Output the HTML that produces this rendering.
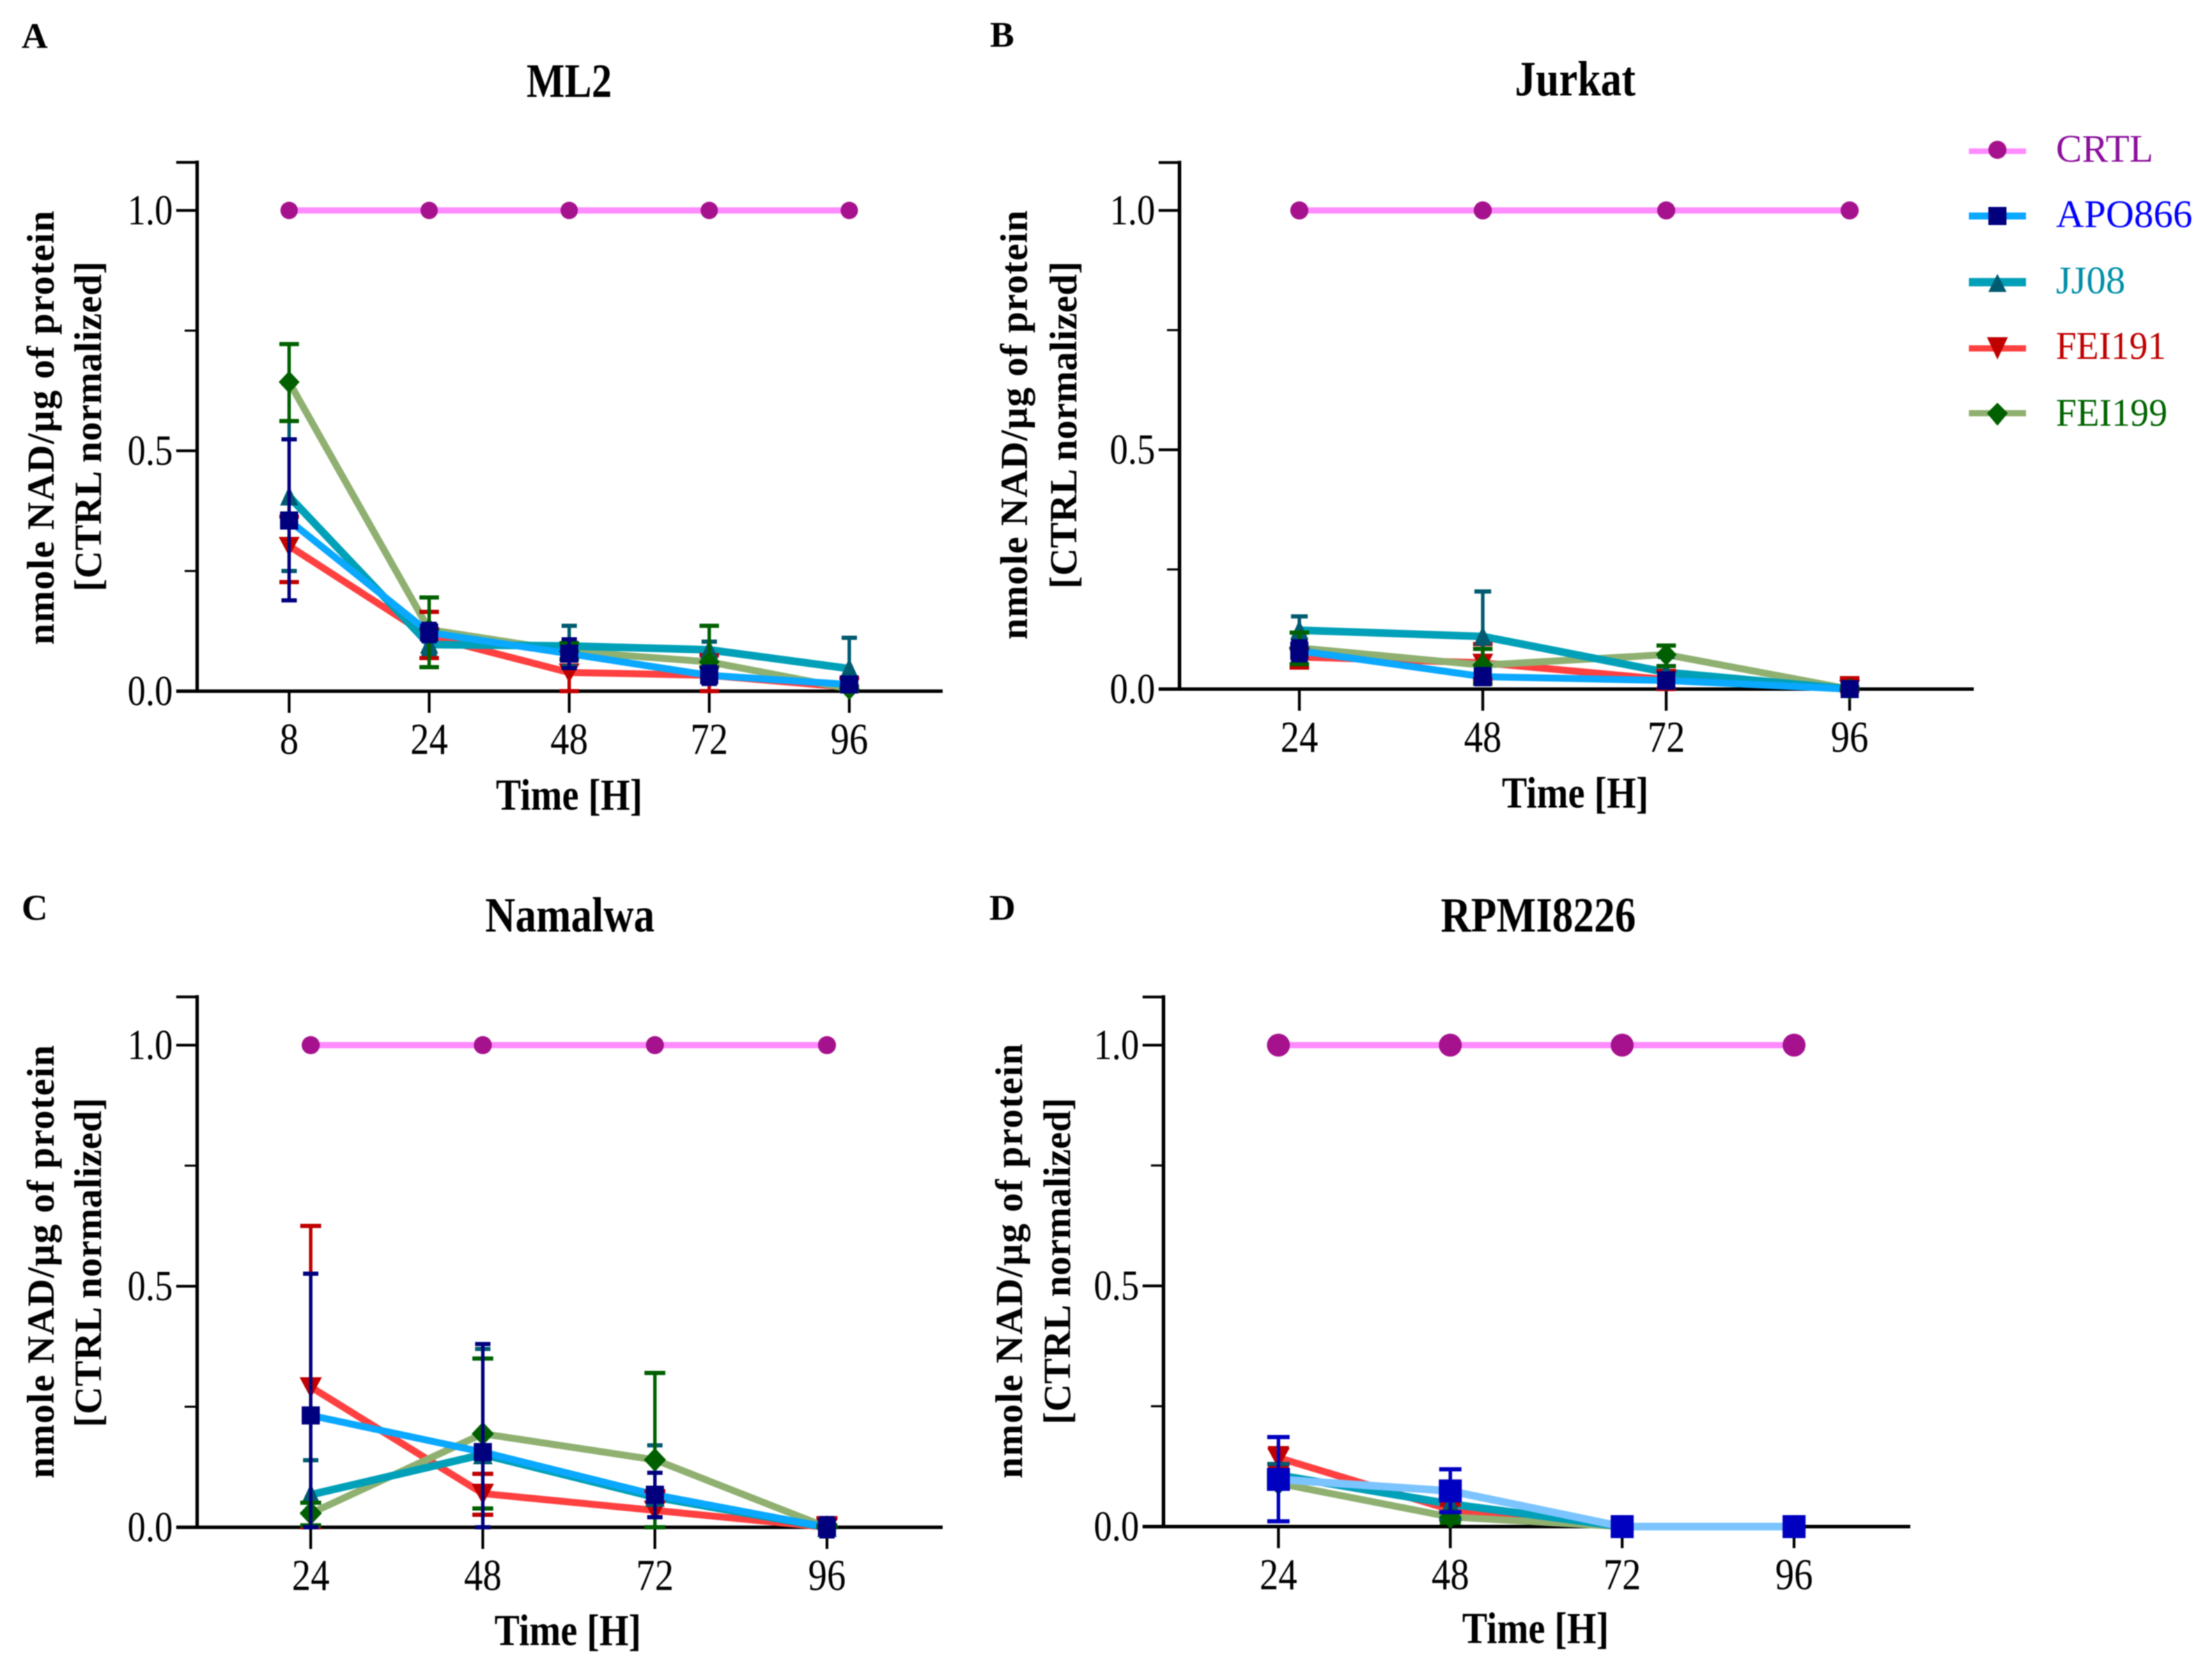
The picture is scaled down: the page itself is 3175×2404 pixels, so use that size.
<!DOCTYPE html>
<html lang="en">
<head>
<meta charset="utf-8">
<title>NAD levels over time in four cell lines</title>
<style>
html,body{margin:0;padding:0;background:#fff;}
svg{display:block;font-family:"Liberation Serif",serif;filter:blur(0.8px);}
.lbl{font-weight:bold;fill:#000;}
.leg{font-size:56px;}
</style>
</head>
<body>
<svg id="figure" xmlns="http://www.w3.org/2000/svg" width="3175" height="2404" viewBox="0 0 3175 2404">
<rect width="3175" height="2404" fill="#fff"/>

<text class="lbl" font-size="52" x="31" y="69">A</text>
<text class="lbl" font-size="52" x="1421" y="67">B</text>
<text class="lbl" font-size="52" x="31" y="1320">C</text>
<text class="lbl" font-size="52" x="1420" y="1320">D</text>

<text class="lbl" font-size="58" text-anchor="middle" transform="translate(817,139) scale(1,1.18)">ML2</text>
<text class="lbl" font-size="60" text-anchor="middle" transform="translate(2261,137) scale(1,1.18)">Jurkat</text>
<text class="lbl" font-size="60" text-anchor="middle" transform="translate(818,1337) scale(1,1.18)">Namalwa</text>
<text class="lbl" font-size="60" text-anchor="middle" transform="translate(2208,1337) scale(1,1.18)">RPMI8226</text>

<text class="lbl" font-size="54" text-anchor="middle" transform="translate(817,1162) scale(1,1.18)">Time [H]</text>
<text class="lbl" font-size="54" text-anchor="middle" transform="translate(2261,1159) scale(1,1.18)">Time [H]</text>
<text class="lbl" font-size="54" text-anchor="middle" transform="translate(815,2361) scale(1,1.18)">Time [H]</text>
<text class="lbl" font-size="54" text-anchor="middle" transform="translate(2204,2358) scale(1,1.18)">Time [H]</text>

<text class="lbl" font-size="55" text-anchor="middle" textLength="623" lengthAdjust="spacing" transform="translate(77,614) rotate(-90)">nmole NAD/µg of protein</text>
<text class="lbl" font-size="55" text-anchor="middle" textLength="474" lengthAdjust="spacing" transform="translate(145,612) rotate(-90)">[CTRL normalized]</text>
<text class="lbl" font-size="55" text-anchor="middle" textLength="616" lengthAdjust="spacing" transform="translate(1474,610) rotate(-90)">nmole NAD/µg of protein</text>
<text class="lbl" font-size="55" text-anchor="middle" textLength="470" lengthAdjust="spacing" transform="translate(1545,610) rotate(-90)">[CTRL normalized]</text>
<text class="lbl" font-size="55" text-anchor="middle" textLength="622" lengthAdjust="spacing" transform="translate(77,1811) rotate(-90)">nmole NAD/µg of protein</text>
<text class="lbl" font-size="55" text-anchor="middle" textLength="473" lengthAdjust="spacing" transform="translate(145,1812) rotate(-90)">[CTRL normalized]</text>
<text class="lbl" font-size="55" text-anchor="middle" textLength="624" lengthAdjust="spacing" transform="translate(1467,1810) rotate(-90)">nmole NAD/µg of protein</text>
<text class="lbl" font-size="55" text-anchor="middle" textLength="469" lengthAdjust="spacing" transform="translate(1536,1810) rotate(-90)">[CTRL normalized]</text>

<g id="panels"></g>

<g id="legend">
  <g>
    <line x1="2826" x2="2908" y1="217" y2="217" stroke="#ff8cff" stroke-width="8"/>
    <circle cx="2867" cy="215" r="13" fill="#a6128e"/>
    <text class="leg" x="2951" y="232" fill="#8b0f9b">CRTL</text>
  </g>
  <g>
    <line x1="2826" x2="2908" y1="310" y2="310" stroke="#0aa8ff" stroke-width="10"/>
    <rect x="2854" y="297" width="26" height="26" fill="#00007f"/>
    <text class="leg" x="2951" y="326" fill="#0000ff">APO866</text>
  </g>
  <g>
    <line x1="2826" x2="2908" y1="405" y2="405" stroke="#00a0b8" stroke-width="12"/>
    <polygon points="2867,393 2880,419 2854,419" fill="#005a70"/>
    <text class="leg" x="2951" y="421" fill="#008fa8">JJ08</text>
  </g>
  <g>
    <line x1="2826" x2="2908" y1="500" y2="500" stroke="#ff4040" stroke-width="9"/>
    <polygon points="2852,484 2882,484 2867,516" fill="#c00000"/>
    <text class="leg" x="2951" y="515" fill="#c00000" textLength="158" lengthAdjust="spacingAndGlyphs">FEI191</text>
  </g>
  <g>
    <line x1="2826" x2="2908" y1="593" y2="593" stroke="#8fb070" stroke-width="9"/>
    <polygon points="2867,578 2882,593 2867,611 2852,593" fill="#006000"/>
    <text class="leg" x="2951" y="611" fill="#006400" textLength="160" lengthAdjust="spacingAndGlyphs">FEI199</text>
  </g>
</g>
</svg>

<script>
/* ---------- axis tick data ---------- */
const yMajorTicks = [0, 0.5, 1];
const yMajorLabels = ['0.0', '0.5', '1.0'];
const yMinorTicks = [0.25, 0.75];
const yAxisMax = 1.1;

/* ---------- Panel A: ML2 ---------- */
const mlHours = ['8', '24', '48', '72', '96'];
const mlCtrl = [1, 1, 1, 1, 1];
const mlApo = [0.355, 0.122, 0.078, 0.033, 0.014];
const mlApoHi = [0.524, 0.14, 0.108, 0.051, 0.024];
const mlApoLo = [0.189, 0.104, 0.048, 0.015, 0.004];
const mlJj = [0.405, 0.097, 0.094, 0.086, 0.047];
const mlJjHi = [0.64, 0.117, 0.136, 0.103, 0.111];
const mlJjLo = [0.25, 0.077, 0.052, 0.069, 0];
const mlFei191 = [0.302, 0.114, 0.039, 0.033, 0.008];
const mlFei191Hi = [0.363, 0.165, 0.066, 0.075, 0.028];
const mlFei191Lo = [0.227, 0.069, 0, 0, 0];
const mlFei199 = [0.643, 0.128, 0.083, 0.061, 0.005];
const mlFei199Hi = [0.722, 0.195, 0.1, 0.136, 0.01];
const mlFei199Lo = [0.562, 0.05, 0.066, 0.05, 0];

/* ---------- Panel B: Jurkat ---------- */
const juHours = ['24', '48', '72', '96'];
const juCtrl = [1, 1, 1, 1];
const juApo = [0.08, 0.026, 0.018, 0];
const juApoHi = [0.1, 0.042, 0.033, 0.01];
const juApoLo = [0.06, 0.01, 0.003, -0.01];
const juJj = [0.123, 0.11, 0.035, 0];
const juJjHi = [0.152, 0.204, 0.067, 0.005];
const juJjLo = [0.094, 0.03, 0.009, 0];
const juFei191 = [0.067, 0.055, 0.02, 0];
const juFei191Hi = [0.085, 0.094, 0.038, 0.023];
const juFei191Lo = [0.045, 0.02, 0, -0.004];
const juFei199 = [0.086, 0.05, 0.072, 0];
const juFei199Hi = [0.118, 0.084, 0.091, 0.004];
const juFei199Lo = [0.052, 0.011, 0.048, 0];

/* ---------- Panel C: Namalwa ---------- */
const naHours = ['24', '48', '72', '96'];
const naCtrl = [1, 1, 1, 1];
const naApo = [0.232, 0.156, 0.0675, 0];
const naApoHi = [0.526, 0.38, 0.113, 0.019];
const naApoLo = [0, 0, 0.021, -0.019];
const naJj = [0.0675, 0.151, 0.0625, 0];
const naJjHi = [0.139, 0.37, 0.17, 0.004];
const naJjLo = [0, 0, 0, 0];
const naFei191 = [0.291, 0.07, 0.035, 0];
const naFei191Hi = [0.625, 0.111, 0.075, 0.019];
const naFei191Lo = [0, 0.026, 0, 0];
const naFei199 = [0.029, 0.194, 0.14, 0];
const naFei199Hi = [0.051, 0.35, 0.32, 0.004];
const naFei199Lo = [0.004, 0.039, 0, 0];

/* ---------- Panel D: RPMI8226 ---------- */
const rpHours = ['24', '48', '72', '96'];
const rpCtrl = [1, 1, 1, 1];
const rpApo = [0.098, 0.074, 0, 0];
const rpApoHi = [0.186, 0.119, 0.01, 0.01];
const rpApoLo = [0.011, 0.03, -0.01, -0.01];
const rpJj = [0.107, 0.047, 0, 0];
const rpJjHi = [0.13, 0.065, 0, 0];
const rpJjLo = [0.085, 0.015, 0, 0];
const rpFei191 = [0.143, 0.035, 0, 0];
const rpFei191Hi = [0.163, 0.045, 0, 0];
const rpFei191Lo = [0.123, 0.012, 0, 0];
const rpFei199 = [0.09, 0.02, 0, 0];
const rpFei199Hi = [0.1, 0.03, 0, 0];
const rpFei199Lo = [0.08, 0.008, 0, 0];

/* ---------- series appearance ---------- */
const STYLE = {
  ctrl:   {line:'#ff8cff', mark:'#a6128e', w:9,  shape:'circle'},
  apo:    {line:'#0aa8ff', mark:'#00007f', w:10, shape:'square'},
  jj:     {line:'#00a0b8', mark:'#005a70', w:11, shape:'up'},
  fei191: {line:'#ff4040', mark:'#c00000', w:10, shape:'down'},
  fei199: {line:'#8fb070', mark:'#006000', w:10, shape:'diamond'}
};
const STYLE_D_APO = {line:'#7cc4ff', mark:'#0000c0', w:11, shape:'square'};

const NS = 'http://www.w3.org/2000/svg';
const root = document.getElementById('panels');

function make(tag, parent, attrs) {
  const el = document.createElementNS(NS, tag);
  for (const k in attrs) el.setAttribute(k, attrs[k]);
  parent.appendChild(el);
  return el;
}

function drawMarker(parent, shape, cx, cy, s, color, seriesName) {
  let el;
  const h = s / 2;
  if (shape === 'circle') {
    el = make('circle', parent, {cx: cx, cy: cy, r: h, fill: color});
  } else if (shape === 'square') {
    el = make('rect', parent, {x: cx - h, y: cy - h, width: s, height: s, fill: color});
  } else if (shape === 'up') {
    el = make('polygon', parent, {points: cx + ',' + (cy - h - 2) + ' ' + (cx + h) + ',' + (cy + h) + ' ' + (cx - h) + ',' + (cy + h), fill: color});
  } else if (shape === 'down') {
    el = make('polygon', parent, {points: (cx - h - 2) + ',' + (cy - h) + ' ' + (cx + h + 2) + ',' + (cy - h) + ' ' + cx + ',' + (cy + h + 2), fill: color});
  } else {
    el = make('polygon', parent, {points: cx + ',' + (cy - h - 3) + ' ' + (cx + h + 2) + ',' + cy + ' ' + cx + ',' + (cy + h + 3) + ' ' + (cx - h - 2) + ',' + cy, fill: color});
  }
  
  
}

function drawPanel(cfg) {
  const g = make('g', root, {});
  
  

  const xScale = function (i) { return cfg.xFirst + i * cfg.xStep; };
  const yScale = function (v) { return cfg.yZero - v * (cfg.yZero - cfg.yOne); };

  /* axes */
  const yAxis = make('line', g, {x1: cfg.axisX, x2: cfg.axisX, y1: yScale(yAxisMax) - 2.5, y2: cfg.yZero + 2.5, stroke: '#000', 'stroke-width': 5});
  
  
  const xAxis = make('line', g, {x1: cfg.axisX - 30, x2: cfg.xEnd, y1: cfg.yZero, y2: cfg.yZero, stroke: '#000', 'stroke-width': 5});
  
  

  /* y ticks */
  yMajorTicks.concat([yAxisMax]).forEach(function (v) {
    const t = make('line', g, {x1: cfg.axisX - 30, x2: cfg.axisX, y1: yScale(v), y2: yScale(v), stroke: '#000', 'stroke-width': 4});
    
    
  });
  yMinorTicks.forEach(function (v) {
    const t = make('line', g, {x1: cfg.axisX - 18, x2: cfg.axisX, y1: yScale(v), y2: yScale(v), stroke: '#000', 'stroke-width': 3});
    
    
  });
  yMajorLabels.forEach(function (lab, i) {
    const t = make('text', g, {'font-size': 52, 'text-anchor': 'end', fill: '#000', transform: 'translate(' + (cfg.axisX - 35) + ',' + (yScale(yMajorTicks[i]) + 20) + ') scale(1,1.18)'});
    t.textContent = lab;
    
    
  });

  /* x ticks */
  cfg.hours.forEach(function (lab, i) {
    const t = make('line', g, {x1: xScale(i), x2: xScale(i), y1: cfg.yZero, y2: cfg.yZero + 31, stroke: '#000', 'stroke-width': 4});
    
    
    const l = make('text', g, {'font-size': 54, 'text-anchor': 'middle', fill: '#000', transform: 'translate(' + xScale(i) + ',' + (cfg.yZero + 90) + ') scale(1,1.18)'});
    l.textContent = lab;
    
    
  });

  /* series lines */
  const lineOrder = ['ctrl', 'fei191', 'fei199', 'jj', 'apo'];
  lineOrder.forEach(function (key) {
    const s = cfg.series[key];
    const st = (cfg.id === 'rpmi8226' && key === 'apo') ? STYLE_D_APO : STYLE[key];
    const pts = s.vals.map(function (v, i) { return xScale(i) + ',' + yScale(v); }).join(' ');
    const pl = make('polyline', g, {points: pts, fill: 'none', stroke: st.line, 'stroke-width': st.w, 'stroke-linejoin': 'miter'});
    
    
  });

  /* error bars + markers */
  const markOrder = ['ctrl', 'fei191', 'jj', 'fei199', 'apo'];
  markOrder.forEach(function (key) {
    const s = cfg.series[key];
    const st = (cfg.id === 'rpmi8226' && key === 'apo') ? STYLE_D_APO : STYLE[key];
    s.vals.forEach(function (v, i) {
      const x = xScale(i);
      if (s.hi) {
        const capW = (key === 'apo' || key === 'jj') ? cfg.capBlue : cfg.capWide;
        const bar = make('line', g, {x1: x, x2: x, y1: yScale(s.hi[i]), y2: yScale(s.lo[i]), stroke: st.mark, 'stroke-width': 5});
        
        
        [s.hi[i], s.lo[i]].forEach(function (e) {
          const cap = make('line', g, {x1: x - capW / 2, x2: x + capW / 2, y1: yScale(e), y2: yScale(e), stroke: st.mark, 'stroke-width': 6});
          
          
        });
      }
      const size = key === 'ctrl' ? cfg.circle : (key === 'apo' ? cfg.square : cfg.marker);
      drawMarker(g, st.shape, x, yScale(v), size, st.mark, key);
    });
  });
}

function seriesOf(ctrl, apo, apoHi, apoLo, jj, jjHi, jjLo, f1, f1Hi, f1Lo, f9, f9Hi, f9Lo) {
  return {
    ctrl:   {vals: ctrl},
    apo:    {vals: apo, hi: apoHi, lo: apoLo},
    jj:     {vals: jj, hi: jjHi, lo: jjLo},
    fei191: {vals: f1, hi: f1Hi, lo: f1Lo},
    fei199: {vals: f9, hi: f9Hi, lo: f9Lo}
  };
}

drawPanel({id: 'ml2', hours: mlHours, xFirst: 415, xStep: 201, yZero: 992, yOne: 302, axisX: 283, xEnd: 1353,
  circle: 25, square: 26, marker: 26, capWide: 28, capBlue: 22,
  series: seriesOf(mlCtrl, mlApo, mlApoHi, mlApoLo, mlJj, mlJjHi, mlJjLo, mlFei191, mlFei191Hi, mlFei191Lo, mlFei199, mlFei199Hi, mlFei199Lo)});
drawPanel({id: 'jurkat', hours: juHours, xFirst: 1865, xStep: 263.3, yZero: 989, yOne: 302, axisX: 1693, xEnd: 2833,
  circle: 26, square: 26, marker: 26, capWide: 28, capBlue: 24,
  series: seriesOf(juCtrl, juApo, juApoHi, juApoLo, juJj, juJjHi, juJjLo, juFei191, juFei191Hi, juFei191Lo, juFei199, juFei199Hi, juFei199Lo)});
drawPanel({id: 'namalwa', hours: naHours, xFirst: 446, xStep: 247, yZero: 2192, yOne: 1500, axisX: 283, xEnd: 1353,
  circle: 26, square: 26, marker: 28, capWide: 30, capBlue: 22,
  series: seriesOf(naCtrl, naApo, naApoHi, naApoLo, naJj, naJjHi, naJjLo, naFei191, naFei191Hi, naFei191Lo, naFei199, naFei199Hi, naFei199Lo)});
drawPanel({id: 'rpmi8226', hours: rpHours, xFirst: 1835, xStep: 246.7, yZero: 2191, yOne: 1500, axisX: 1670, xEnd: 2742,
  circle: 33, square: 33, marker: 28, capWide: 30, capBlue: 32,
  series: seriesOf(rpCtrl, rpApo, rpApoHi, rpApoLo, rpJj, rpJjHi, rpJjLo, rpFei191, rpFei191Hi, rpFei191Lo, rpFei199, rpFei199Hi, rpFei199Lo)});
</script>
</body>
</html>
